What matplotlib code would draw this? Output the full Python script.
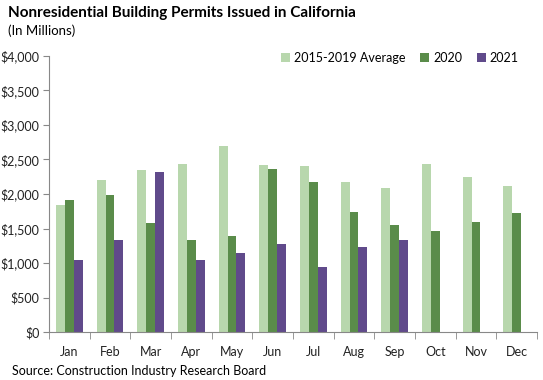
import numpy as np
import matplotlib
matplotlib.use("Agg")
import matplotlib.pyplot as plt
from matplotlib.ticker import FuncFormatter

# data (millions of dollars)
months = ['Jan', 'Feb', 'Mar', 'Apr', 'May', 'Jun', 'Jul', 'Aug', 'Sep', 'Oct', 'Nov', 'Dec']
avg_2015_2019 = [1840, 2200, 2350, 2430, 2690, 2420, 2400, 2170, 2080, 2430, 2240, 2110]
vals_2020 = [1910, 1980, 1575, 1330, 1385, 2360, 2170, 1735, 1550, 1460, 1590, 1720]
vals_2021 = [1040, 1330, 2320, 1040, 1140, 1270, 940, 1230, 1330]

plt.rcParams['font.family'] = ['Lato', 'DejaVu Sans']

fig = plt.figure(figsize=(5.43, 3.80), dpi=100)
ax = fig.add_axes([49/543, 48/380, (537-49)/543, (332-56)/380])

x = np.arange(len(months))
w = 0.22
ax.bar(x - w, avg_2015_2019, w, color='#b8d7ad', label='2015-2019 Average')
ax.bar(x, vals_2020, w, color='#5a8c4a', label='2020')
ax.bar(np.arange(len(vals_2021)) + w, vals_2021, w, color='#604a8b', label='2021')

ax.set_xlim(-0.5, len(months) - 0.5)
ax.set_ylim(0, 4000)
ax.set_yticks(range(0, 4001, 500))
ax.yaxis.set_major_formatter(FuncFormatter(lambda v, p: '${:,.0f}'.format(v)))
ax.set_xticks(x)
ax.set_xticklabels(months)
ax.set_xticks(np.arange(-0.5, len(months), 1), minor=True)
ax.tick_params(axis='x', which='major', length=0, pad=10, labelsize=9, colors='#222222')
ax.tick_params(axis='x', which='minor', length=5, color='#888888', direction='out')
ax.tick_params(axis='y', length=4, color='#888888', labelsize=9, colors='#222222', pad=3)

for s in ['top', 'right']:
    ax.spines[s].set_visible(False)
for s in ['left', 'bottom']:
    ax.spines[s].set_color('#888888')

leg = ax.legend(loc='upper right', bbox_to_anchor=(0.985, 1.055), ncol=3, frameon=False,
                fontsize=9, handlelength=0.7, handleheight=0.7, handletextpad=0.3,
                columnspacing=1.2)

fig.text(8/543, 1 - 13/380, 'Nonresidential Building Permits Issued in California',
         fontsize=11, fontweight='bold', va='center', ha='left')
fig.text(8/543, 1 - 31/380, '(In Millions)', fontsize=9.5, va='center', ha='left')
fig.text(12/543, 1 - 371/380, 'Source: Construction Industry Research Board',
         fontsize=9, va='center', ha='left')

fig.savefig('out.png', dpi=100)
